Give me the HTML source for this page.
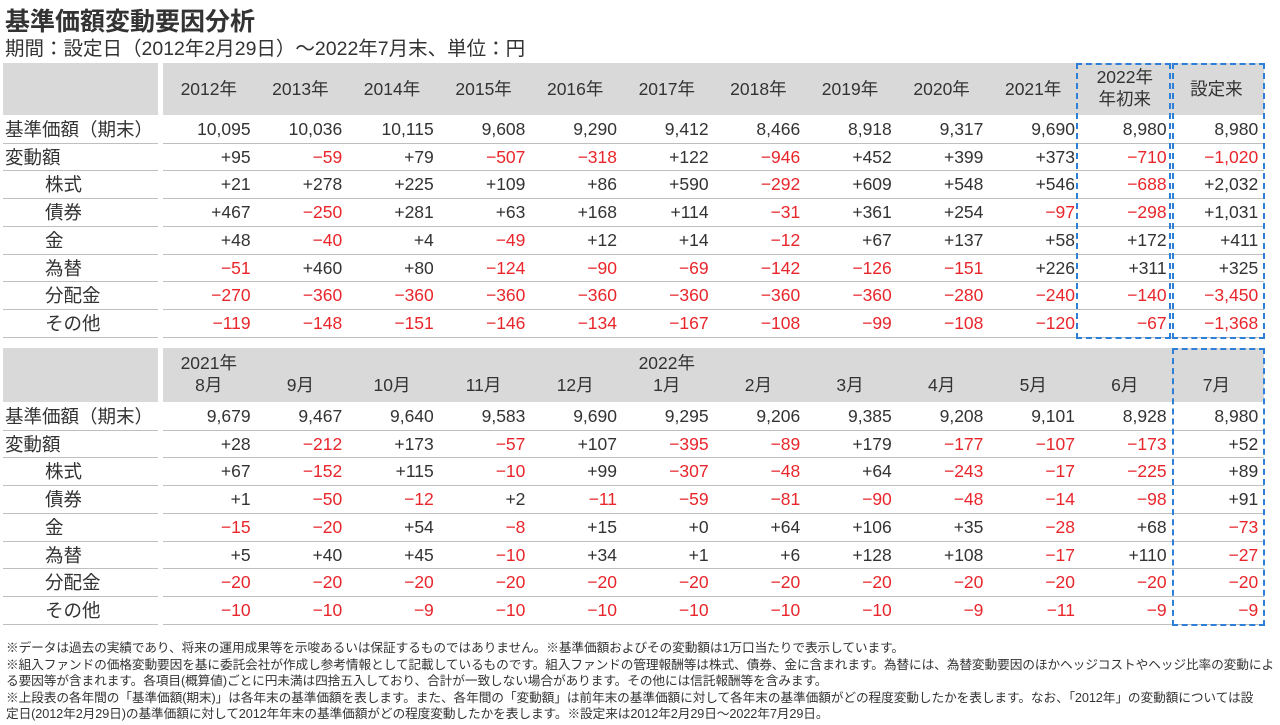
<!DOCTYPE html>
<html><head><meta charset="utf-8">
<style>
body{margin:0;width:1280px;height:725px;background:#fff;position:relative;overflow:hidden;font-family:"Liberation Sans Narrow","Liberation Sans","Noto Sans CJK JP",sans-serif;color:#333}
.a{position:absolute;white-space:nowrap}
.hd{position:absolute;background:#d9d9d9}
.c{position:absolute;font-size:17.5px;line-height:27px;height:27px;text-align:right;padding-right:4px;box-sizing:border-box}
.l{position:absolute;font-size:18.5px;line-height:27px;height:27px;white-space:nowrap;font-family:"Liberation Sans","Noto Sans CJK JP",sans-serif}
.ln{position:absolute;height:1px;background:#bfbfbf}
.neg{color:#e8262b}
.box{position:absolute;border:2px dashed #2d7fd8;box-sizing:border-box}
.h{position:absolute;font-size:17.5px;text-align:center;line-height:22px}
.fn{position:absolute;left:6px;font-size:12.7px;line-height:16.6px;color:#333;font-family:"Liberation Sans","Noto Sans CJK JP",sans-serif;letter-spacing:-0.1px;white-space:nowrap}
</style></head><body>
<div class="a" style="left:5px;top:2px;font-size:25px;font-weight:bold;font-family:'Liberation Sans','Noto Sans CJK JP',sans-serif">基準価額変動要因分析</div>
<div class="a" style="left:5px;top:32px;font-size:19.5px;font-family:'Liberation Sans','Noto Sans CJK JP',sans-serif">期間：設定日（2012年2月29日）～2022年7月末、単位：円</div>
<div id="t"></div>
<div class="fn" style="top:640px;width:1272px">※データは過去の実績であり、将来の運用成果等を示唆あるいは保証するものではありません。※基準価額およびその変動額は1万口当たりで表示しています。<br>※組入ファンドの価格変動要因を基に委託会社が作成し参考情報として記載しているものです。組入ファンドの管理報酬等は株式、債券、金に含まれます。為替には、為替変動要因のほかヘッジコストやヘッジ比率の変動によ<br>る要因等が含まれます。各項目(概算値)ごとに円未満は四捨五入しており、合計が一致しない場合があります。その他には信託報酬等を含みます。<br>※上段表の各年間の「基準価額(期末)」は各年末の基準価額を表します。また、各年間の「変動額」は前年末の基準価額に対して各年末の基準価額がどの程度変動したかを表します。なお、「2012年」の変動額については設<br>定日(2012年2月29日)の基準価額に対して2012年年末の基準価額がどの程度変動したかを表します。※設定来は2012年2月29日～2022年7月29日。</div>
<script>
const rowLabels=["基準価額（期末）","変動額","株式","債券","金","為替","分配金","その他"];
const indent=[0,0,1,1,1,1,1,1];
const t1Heads=["2012年","2013年","2014年","2015年","2016年","2017年","2018年","2019年","2020年","2021年","2022年<br>年初来","設定来"];
const t1=[
["10,095","10,036","10,115","9,608","9,290","9,412","8,466","8,918","9,317","9,690","8,980","8,980"],
["+95","-59","+79","-507","-318","+122","-946","+452","+399","+373","-710","-1,020"],
["+21","+278","+225","+109","+86","+590","-292","+609","+548","+546","-688","+2,032"],
["+467","-250","+281","+63","+168","+114","-31","+361","+254","-97","-298","+1,031"],
["+48","-40","+4","-49","+12","+14","-12","+67","+137","+58","+172","+411"],
["-51","+460","+80","-124","-90","-69","-142","-126","-151","+226","+311","+325"],
["-270","-360","-360","-360","-360","-360","-360","-360","-280","-240","-140","-3,450"],
["-119","-148","-151","-146","-134","-167","-108","-99","-108","-120","-67","-1,368"]];
const t2Months=["8月","9月","10月","11月","12月","1月","2月","3月","4月","5月","6月","7月"];
const t2=[
["9,679","9,467","9,640","9,583","9,690","9,295","9,206","9,385","9,208","9,101","8,928","8,980"],
["+28","-212","+173","-57","+107","-395","-89","+179","-177","-107","-173","+52"],
["+67","-152","+115","-10","+99","-307","-48","+64","-243","-17","-225","+89"],
["+1","-50","-12","+2","-11","-59","-81","-90","-48","-14","-98","+91"],
["-15","-20","+54","-8","+15","+0","+64","+106","+35","-28","+68","-73"],
["+5","+40","+45","-10","+34","+1","+6","+128","+108","-17","+110","-27"],
["-20","-20","-20","-20","-20","-20","-20","-20","-20","-20","-20","-20"],
["-10","-10","-9","-10","-10","-10","-10","-10","-9","-11","-9","-9"]];
const T=document.getElementById('t');
const X0=163,CW=91.6,RH=27.7;
function add(cls,style,html){const d=document.createElement('div');d.className=cls;d.style.cssText=style;if(html!==undefined)d.innerHTML=html;T.appendChild(d);return d;}
function table(top,hh,vals){
  let e=add('hd',`left:3px;top:${top}px;width:155px;height:${hh}px`);
  
  
  e=add('hd',`left:${X0}px;top:${top}px;width:${CW*12+2}px;height:${hh}px`);
  
  
  const r0=top+hh+1;
  for(let r=0;r<8;r++){
    const y=r0+r*RH;
    e=add('l',`left:${5+indent[r]*40}px;top:${y}px`,rowLabels[r]);
    
    
    e=add('ln',`left:3px;top:${y+RH-1}px;width:155px`);
    
    
    e=add('ln',`left:${X0}px;top:${y+RH-1}px;width:${CW*12+2}px`);
    
    
    for(let c=0;c<12;c++){
      const v=vals[r][c];const neg=v[0]==='-';
      e=add('c'+(neg?' neg':''),`left:${X0+c*CW}px;top:${y}px;width:${CW}px`,neg?'−'+v.slice(1):v);
      
      
    }
  }
  return r0+8*RH;
}
let end1=table(63,52,t1);
for(let c=0;c<12;c++){
  const two=t1Heads[c].includes('<br>');
  const e=add('h',`left:${X0+c*CW}px;top:${two?66:78}px;width:${CW}px`,t1Heads[c]);
  
  
}
let end2=table(348,54,t2);
for(let c=0;c<12;c++){
  const e=add('h',`left:${X0+c*CW}px;top:374px;width:${CW}px`,t2Months[c]);
  
  
}
let e=add('h',`left:${X0}px;top:352px;width:${CW}px`,'2021年');


e=add('h',`left:${X0+5*CW}px;top:352px;width:${CW}px`,'2022年');


e=add('box',`left:${X0+10*CW-3}px;top:63px;width:${CW+3}px;height:${end1-63+1}px`);


e=add('box',`left:${X0+11*CW+1}px;top:63px;width:${CW+2}px;height:${end1-63+1}px`);


e=add('box',`left:${X0+11*CW+1}px;top:348px;width:${CW+2}px;height:${end2-348+1}px`);


</script>
</body></html>
